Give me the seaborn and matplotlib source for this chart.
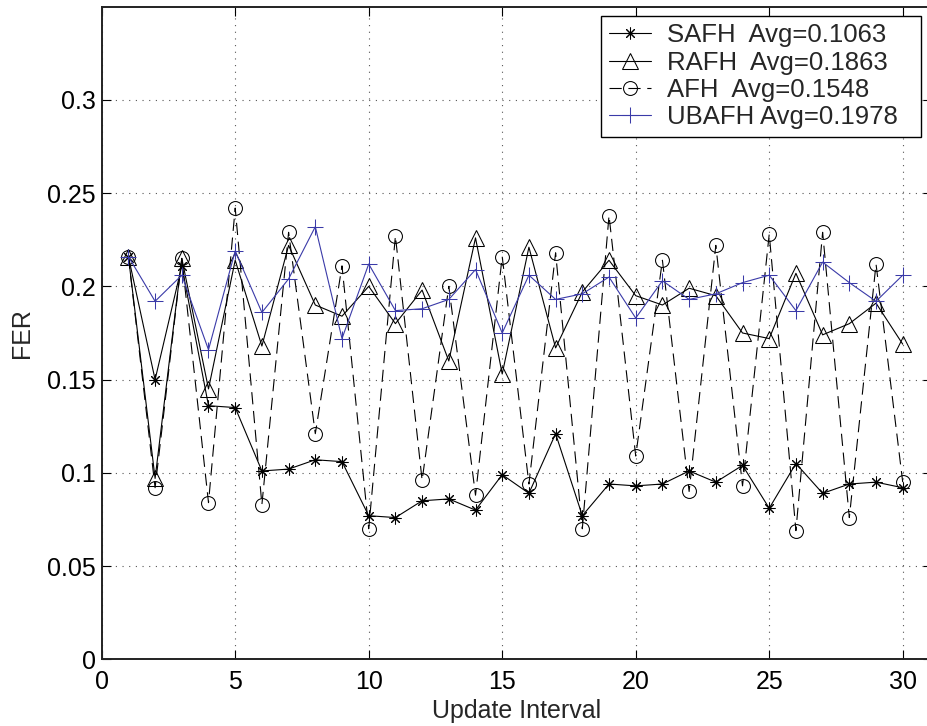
import numpy as np
import pandas as pd
import matplotlib
matplotlib.use("Agg")
import matplotlib.pyplot as plt
import seaborn as sns

# Update intervals and frame error rates per scheme
interval = list(range(1, 31))

safh = [0.216, 0.150, 0.211, 0.136, 0.135, 0.101, 0.102, 0.107, 0.106, 0.077,
        0.076, 0.085, 0.086, 0.080, 0.099, 0.089, 0.121, 0.077, 0.094, 0.093,
        0.094, 0.101, 0.095, 0.104, 0.081, 0.105, 0.089, 0.094, 0.095, 0.092]

rafh = [0.216, 0.097, 0.215, 0.145, 0.214, 0.168, 0.222, 0.190, 0.184, 0.200,
        0.180, 0.198, 0.160, 0.226, 0.153, 0.221, 0.167, 0.197, 0.214, 0.195,
        0.190, 0.199, 0.195, 0.175, 0.172, 0.207, 0.174, 0.180, 0.191, 0.169]

afh = [0.216, 0.092, 0.215, 0.084, 0.242, 0.083, 0.229, 0.121, 0.211, 0.070,
       0.227, 0.096, 0.200, 0.088, 0.216, 0.094, 0.218, 0.070, 0.238, 0.109,
       0.214, 0.090, 0.222, 0.093, 0.228, 0.069, 0.229, 0.076, 0.212, 0.095]

ubafh = [0.216, 0.192, 0.206, 0.166, 0.219, 0.186, 0.204, 0.232, 0.172, 0.212,
         0.187, 0.188, 0.193, 0.209, 0.175, 0.206, 0.193, 0.196, 0.205, 0.183,
         0.203, 0.193, 0.196, 0.202, 0.206, 0.187, 0.213, 0.202, 0.192, 0.206]

labels = ["SAFH  Avg=0.1063", "RAFH  Avg=0.1863", "AFH  Avg=0.1548", "UBAFH Avg=0.1978"]

x_ticks = [0, 5, 10, 15, 20, 25, 30]
y_ticks = [0, 0.05, 0.1, 0.15, 0.2, 0.25, 0.3]
y_ticklabels = ["0", "0.05", "0.1", "0.15", "0.2", "0.25", "0.3"]

sns.set_style("ticks")
plt.rcParams["font.family"] = ["Liberation Sans", "DejaVu Sans"]
plt.rcParams["font.size"] = 18

fig = plt.figure(figsize=(9.27, 7.26), dpi=100)
ax = fig.add_axes([0.1097, 0.0919, 0.8958, 0.8989])

df = pd.DataFrame({"interval": interval, "safh": safh, "rafh": rafh,
                   "afh": afh, "ubafh": ubafh})

blue = "#3a3aa8"
styles = [
    ("safh", "black", dict(marker=(8, 2, 0), markersize=8.5, linestyle="-")),
    ("rafh", "black", dict(marker="^", markersize=11.5, linestyle="-",
                           markerfacecolor="none")),
    ("afh", "black", dict(marker="o", markersize=10, linestyle=(0, (11, 6)),
                          markerfacecolor="none")),
    ("ubafh", blue, dict(marker="+", markersize=12, linestyle="-")),
]

for (col, colour, kw), lab in zip(styles, labels):
    sns.lineplot(data=df, x="interval", y=col, ax=ax, label=lab,
                 estimator=None, linewidth=0.8, color=colour,
                 markeredgecolor=colour, markeredgewidth=0.75, **kw)

ax.set_xlim(0, 31.1)
ax.set_ylim(0, 0.35)
ax.set_xticks(x_ticks)
ax.set_yticks(y_ticks)
ax.set_yticklabels(y_ticklabels)

ax.grid(True, linestyle=(0, (1, 5)), linewidth=0.8, color="#555555")
ax.tick_params(direction="in", length=6.5, width=0.8, top=True, right=True,
               labelsize=18, colors="black")
ax.tick_params(axis="x", pad=8)
ax.tick_params(axis="y", pad=4.3)
for s in ax.spines.values():
    s.set_linewidth(1.4)
    s.set_color("#222222")

ax.set_xlabel("Update Interval", fontsize=18, labelpad=3)
ax.set_ylabel("FER", fontsize=18)
ax.yaxis.set_label_coords(-0.082, 0.5)

# Legend box spans a fixed region in the upper right corner
leg_x0, leg_top = 601 / 927, 1 - 15.7 / 726
leg_w, leg_h = 319.7 / 927, 124.3 / 726
leg = ax.legend(loc="upper left",
                bbox_to_anchor=(leg_x0, leg_top - leg_h, leg_w, leg_h),
                bbox_transform=fig.transFigure, borderaxespad=0, mode="expand",
                fontsize=18.5, frameon=True, fancybox=False, numpoints=1,
                handlelength=1.65, handletextpad=0.6, labelspacing=0.13,
                borderpad=0.3)
leg.get_frame().set_edgecolor("black")
leg.get_frame().set_linewidth(1.0)
leg.get_frame().set_alpha(1)

fig.savefig("out.png", dpi=100)
